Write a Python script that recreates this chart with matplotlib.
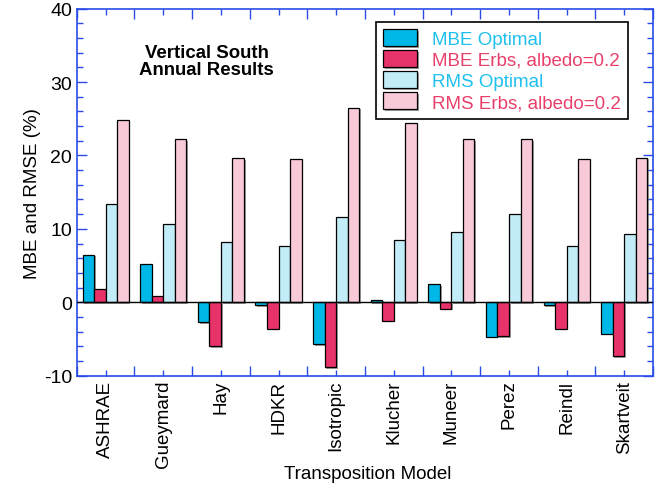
import numpy as np
import matplotlib
matplotlib.use('Agg')
import matplotlib.pyplot as plt
import matplotlib.patheffects as pe
from matplotlib.patches import Rectangle
from matplotlib.legend_handler import HandlerPatch
from matplotlib.ticker import MultipleLocator

plt.rcParams['font.family'] = ['Liberation Sans', 'DejaVu Sans']
plt.rcParams['axes.unicode_minus'] = False

# Data
models = ['ASHRAE', 'Gueymard', 'Hay', 'HDKR', 'Isotropic',
          'Klucher', 'Muneer', 'Perez', 'Reindl', 'Skartveit']
mbe_optimal = [6.5, 5.2, -2.7, -0.4, -5.7, 0.35, 2.5, -4.7, -0.4, -4.3]
mbe_erbs = [1.8, 0.8, -6.0, -3.6, -8.9, -2.5, -0.9, -4.6, -3.6, -7.4]
rms_optimal = [13.4, 10.6, 8.2, 7.6, 11.6, 8.5, 9.5, 12.0, 7.7, 9.3]
rms_erbs = [24.9, 22.2, 19.6, 19.5, 26.5, 24.4, 22.2, 22.2, 19.5, 19.7]

series = [mbe_optimal, mbe_erbs, rms_optimal, rms_erbs]
labels = ['MBE Optimal', 'MBE Erbs, albedo=0.2', 'RMS Optimal', 'RMS Erbs, albedo=0.2']
colors = ['#00b8e8', '#e8336a', '#c2ecf8', '#f8cad8']
text_colors = ['#1ec0ee', '#e8406a', '#1ec0ee', '#e8406a']

fig = plt.figure(figsize=(6.57, 4.89), dpi=100)
ax = fig.add_axes([0.117, 0.23, 0.877, 0.75])

shadow = [pe.SimplePatchShadow(offset=(1.2, -1.2), shadow_rgbFace='#777777', alpha=0.7),
          pe.Normal()]

x = np.arange(len(models)) + 0.5
w = 0.2
for i, vals in enumerate(series):
    ax.bar(x + (i - 1.5) * w, vals, w, color=colors[i], edgecolor='black',
           linewidth=0.9, label=labels[i], zorder=3, path_effects=shadow)

ax.axhline(0, color='black', linewidth=1, zorder=4)

ax.set_xlim(0, len(models))
ax.set_ylim(-10, 40)
ax.yaxis.set_major_locator(MultipleLocator(10))
ax.yaxis.set_minor_locator(MultipleLocator(2))
ax.set_xticks(np.arange(len(models) + 1))
ax.set_xticklabels([])
ax.set_xticks(x, minor=True)
ax.set_xticklabels(models, minor=True, rotation=90, fontsize=13.5)

blue = '#2a4be8'
for s in ax.spines.values():
    s.set_color(blue)
    s.set_linewidth(1.2)
ax.tick_params(which='both', direction='in', color=blue, top=True, right=True)
ax.tick_params(which='major', length=7, width=1, labelsize=14)
ax.tick_params(which='minor', length=4, width=1)
ax.tick_params(axis='x', which='minor', pad=3)

ax.set_xlabel('Transposition Model', fontsize=13.5)
ax.xaxis.set_label_coords(0.504, -0.243)
ax.set_ylabel('MBE and RMSE (%)', fontsize=13.5, labelpad=2)

ax.text(0.225, 0.905, 'Vertical South\nAnnual Results', transform=ax.transAxes,
        ha='center', va='top', fontsize=13.4, fontweight='bold', linespacing=1.05)


# legend swatch shifted right inside its slot
def swatch(legend, orig_handle, xdescent, ydescent, width, height, fontsize):
    side = fontsize * 1.0
    return Rectangle((-xdescent + width - side, -ydescent + (height - side) / 2),
                     side, side)


leg = ax.legend(loc='upper right', bbox_to_anchor=(0.957, 0.965), fontsize=13.5,
                fancybox=False, edgecolor='black', framealpha=1,
                handlelength=1.8, handleheight=1.0, borderpad=0.4,
                borderaxespad=0, labelspacing=0.12, handletextpad=0.8,
                handler_map={Rectangle: HandlerPatch(patch_func=swatch)})
leg.get_frame().set_linewidth(1.2)
for t, c in zip(leg.get_texts(), text_colors):
    t.set_color(c)

fig.savefig('out.png', dpi=100)
